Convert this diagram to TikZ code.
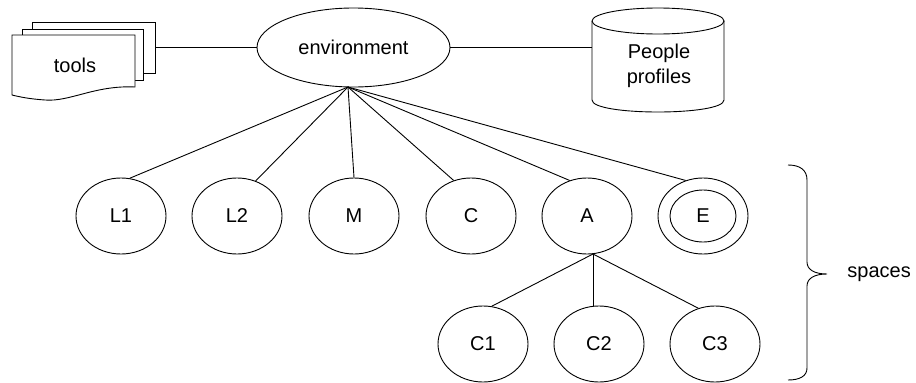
\documentclass[tikz,border=0pt]{standalone}
\usepackage{fontspec}
\setmainfont{Liberation Sans}
\usetikzlibrary{shapes.geometric}
\begin{document}
\begin{tikzpicture}[x=1pt,y=-1pt, line width=0.9pt,
  every node/.style={font=\fontsize{20}{25}\selectfont},
  sp/.style={ellipse, draw, inner sep=0pt, minimum width=90pt, minimum height=76pt},
  sheet/.style={draw, fill=white, inner sep=0pt, minimum height=51pt},
  conn/.style={line width=0.9pt}]
\useasboundingbox (0,0) rectangle (916,383);

% tools (stacked documents)
\node[sheet, minimum width=123pt] (tb3) at (93.5,47.5) {};
\node[sheet, minimum width=121pt] (tb2) at (82.5,54.5) {};
\draw[fill=white] (12,35) -- (135,35) -- (135,87)
  .. controls (95,85) and (70,102) .. (45,100)
  .. controls (30,99) and (20,97) .. (12,95) -- cycle;
\node (tools) at (75,65) {tools};

% environment
\node[ellipse, draw, inner sep=0pt, minimum width=193pt, minimum height=79pt] (env) at (353.5,47.5) {environment};

% people profiles (cylinder)
\node[inner sep=0pt, minimum width=132pt, minimum height=104pt] (db) at (658,60) {};
\draw[fill=white] (592,21) -- (592,100) .. controls (592,116) and (724,116) .. (724,100) -- (724,21);
\draw (658,21) ellipse [x radius=66, y radius=13];
\node[align=center] (dbtext) at (659,66) {People\\profiles};

\draw[conn] (tb3.east) -- (env.west);
\draw[conn] (env.east) -- (env.east -| db.west);

% spaces
\node[sp] (L1) at (121,216) {L1};
\node[sp] (L2) at (237,216) {L2};
\node[sp] (M)  at (354,216) {M};
\node[sp] (C)  at (471,216) {C};
\node[sp] (A)  at (587,216) {A};
\node[sp] (E)  at (703,216) {E};
\draw (E.center) ellipse [x radius=33, y radius=26];

\coordinate (hub) at (348,87);
\draw[conn] (hub) -- (L1.77);
\draw[conn] (hub) -- (L2.62);
\draw[conn] (hub) -- (M.north);
\draw[conn] (hub) -- (C.116);
\draw[conn] (hub) -- (A.116);
\draw[conn] (hub) -- (E.116);

\node[sp] (C1) at (483,344) {C1};
\node[sp] (C2) at (599,344) {C2};
\node[sp] (C3) at (715,344) {C3};

\coordinate (hubA) at (593,254);
\draw[conn] (hubA) -- (C1.77);
\draw[conn] (hubA) -- (hubA |- C2.north);
\draw[conn] (hubA) -- (C3.115);

% brace
\draw (788,165) .. controls (800,165) and (807,170) .. (807,180) -- (807,262)
  .. controls (807,270) and (815,274) .. (827,274)
  .. controls (815,274) and (807,278) .. (807,286) -- (807,368)
  .. controls (807,376) and (800,380) .. (788,380);
\node[anchor=west, inner sep=0pt] (spaces) at (847,274) {spaces};
\end{tikzpicture}
\end{document}
